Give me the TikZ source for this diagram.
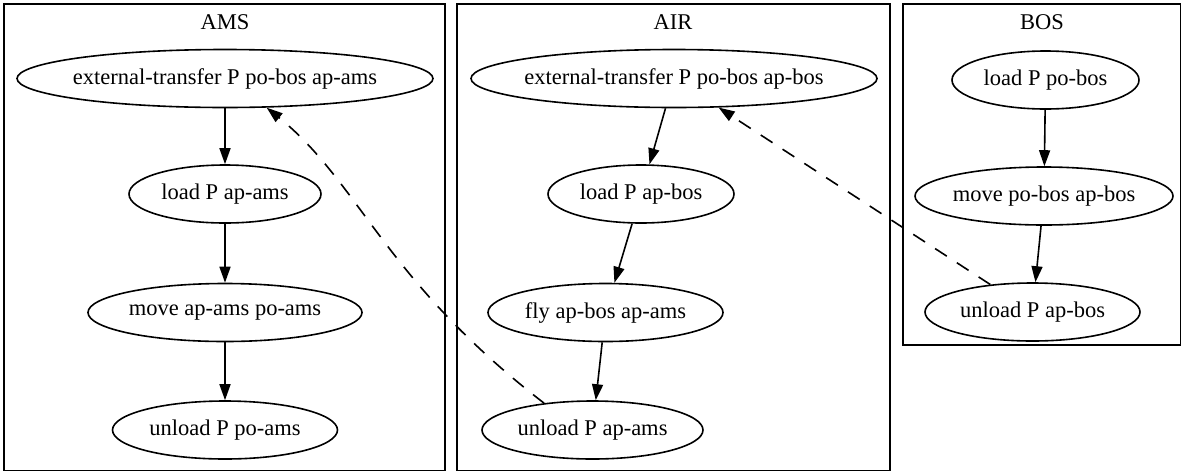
\documentclass[tikz,border=0pt]{standalone}
\usepackage{fontspec}
\setmainfont{Liberation Serif}
\usepackage{tikz}
\usetikzlibrary{shapes.geometric,arrows.meta}
\tikzset{
  act/.style={ellipse,draw,line width=1.6pt,inner xsep=-20pt,inner ysep=0pt,minimum height=58pt,font=\fontsize{22.5}{27}\selectfont},
  ctitle/.style={font=\fontsize{22.5}{27}\selectfont},
  cluster/.style={draw,line width=1.6pt},
  flow/.style={line width=1.6pt,-{Triangle[length=16pt,width=11pt]}},
  dep/.style={flow,dash pattern=on 14pt off 12pt}
}
\begin{document}
\begin{tikzpicture}[x=1pt,y=-1pt]
            \useasboundingbox (0,0) rectangle (1182,472);

            \draw[cluster] (4,4) rectangle (445,470.5);
            \node[ctitle] (tams) at (225,22) {AMS};
            \node[act,minimum width=416pt] (ext1) at (225,78.5) {external-transfer P po-bos ap-ams};
            \node[act,minimum width=192pt] (load1) at (225,194) {load P ap-ams};
            \node[act,minimum width=274pt] (move1) at (225,312.5) {move ap-ams po-ams};
            \node[act,minimum width=225pt] (unl1) at (225,430) {unload P po-ams};
            \draw[flow] (ext1) -- (load1);
            \draw[flow] (load1) -- (move1);
            \draw[flow] (move1) -- (unl1);

            \draw[cluster] (457,4) rectangle (890,470.5);
            \node[ctitle] (tair) at (673,22) {AIR};
            \node[act,minimum width=406pt] (ext2) at (674,78.5) {external-transfer P po-bos ap-bos};
            \node[act,minimum width=186pt] (load2) at (641,194) {load P ap-bos};
            \node[act,minimum width=235pt] (fly) at (605.5,312.5) {fly ap-bos ap-ams};
            \node[act,minimum width=221pt] (unl2) at (592.5,430) {unload P ap-ams};
            \draw[flow] (ext2) -- (load2);
            \draw[flow] (load2) -- (fly);
            \draw[flow] (fly) -- (unl2);

            \draw[cluster] (903,4) rectangle (1180.5,345);
            \node[ctitle] (tbos) at (1042,22) {BOS};
            \node[act,minimum width=187pt] (load3) at (1045.5,80) {load P po-bos};
            \node[act,minimum width=258pt] (move3) at (1044,196) {move po-bos ap-bos};
            \node[act,minimum width=215pt] (unl3) at (1032.5,312) {unload P ap-bos};
            \draw[flow] (load3) -- (move3);
            \draw[flow] (move3) -- (unl3);

            \draw[dep] (unl3) -- (ext2);
            \draw[dep] (unl2.151) .. controls (384,280) and (360,183) .. (ext1.-35);
\end{tikzpicture}
\end{document}
